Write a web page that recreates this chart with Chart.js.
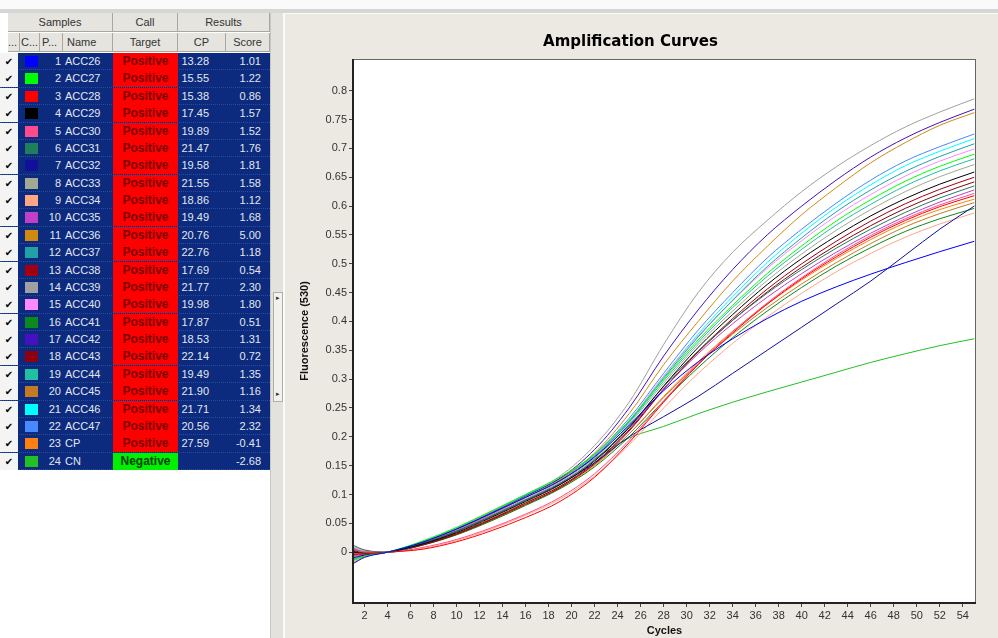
<!DOCTYPE html>
<html>
<head>
<meta charset="utf-8">
<script src="https://cdn.jsdelivr.net/npm/chart.js@4"></script>
<style>
  body { margin: 0; width: 998px; height: 638px; overflow: hidden; background: #fff; position: relative;
         font-family: "Liberation Sans", Arial, sans-serif; }
  #topbar { position: absolute; left: 0; top: 0; width: 998px; height: 9px; background: #fafafa; border-bottom: 4px solid #d6d6d6; }
  #grid { position: absolute; left: 0; top: 13px; width: 270px; height: 625px; background: #fff; }
  .hd { position: absolute; height: 19px; line-height: 19px; background: #e6e4df; color: #333; font-size: 11px;
        text-align: center; border-right: 1px solid #a9a7a2; border-bottom: 1px solid #a9a7a2; box-sizing: border-box; overflow: hidden; }
  .row { position: absolute; left: 0; width: 270px; height: 17.4px; background: #0c2b7e; border-bottom: 1px dotted #2d4b98; box-sizing: border-box; }
  .row span { position: absolute; top: 0; height: 17px; line-height: 17px; font-size: 11px; color: #e4e6ee; white-space: nowrap; }
  .chk { left: 0; width: 18px; background: #f4f4f4; color: #000 !important; font-size: 10px !important; text-align: center; font-family: "DejaVu Sans", sans-serif; }
  .sw { left: 25px; top: 3px !important; width: 13px; height: 11px !important; }
  .num { left: 40px; width: 21px; text-align: right; }
  .nm { left: 65px; }
  .call { left: 113px; width: 65px; text-align: center; font-weight: bold; font-size: 12px !important; }
  .pc { background: #ff0000; color: #7a0000 !important; }
  .nc { background: #00f000; color: #004000 !important; }
  .cp { left: 178px; width: 31px; text-align: right; }
  .sc { left: 226px; width: 35px; text-align: right; }
  #split { position: absolute; left: 270px; top: 13px; width: 13px; height: 625px; background: #e4e2dc; border-left: 1px solid #c8c6c0; box-sizing: border-box; }
  #handle { position: absolute; left: 2px; top: 279px; width: 8px; height: 108px; background: #f2f1ee; border: 1px solid #b0aea8;
            font-size: 7px; color: #333; text-align: center; line-height: 10px; }
  #panel { position: absolute; left: 283px; top: 13px; width: 715px; height: 625px; background: #ece9e2;
           border-left: 2px solid #fbfbfa; border-top: 1px solid #fbfbfa; box-sizing: border-box; }
  #amp { position: absolute; left: 285px; top: 14px; }
</style>
</head>
<body>
<div id="topbar"></div>
<div id="grid"></div>
<div id="split"><div id="handle"><div>&#9656;</div><div style="margin-top:86px">&#9656;</div></div></div>
<div id="panel"></div>
<canvas id="amp" width="713" height="624"></canvas>
<script>
// sample table
const sampleNames = ["ACC26", "ACC27", "ACC28", "ACC29", "ACC30", "ACC31", "ACC32", "ACC33", "ACC34", "ACC35", "ACC36", "ACC37",
  "ACC38", "ACC39", "ACC40", "ACC41", "ACC42", "ACC43", "ACC44", "ACC45", "ACC46", "ACC47", "CP", "CN"];
const sampleColors = ["#0000ff", "#00ff00", "#ff0000", "#000000", "#ff4a8c", "#1e7f5a", "#10109a", "#a3a892", "#ffa684", "#c040c8",
  "#d08a10", "#22a0a8", "#a00010", "#a0a0a0", "#ff88ff", "#0a8a1a", "#4410c0", "#8e0010", "#20c0a0", "#c47a22", "#00ffff",
  "#4a88ff", "#ff8010", "#22c022"];
const calls = ["Positive", "Positive", "Positive", "Positive", "Positive", "Positive", "Positive", "Positive", "Positive", "Positive",
  "Positive", "Positive", "Positive", "Positive", "Positive", "Positive", "Positive", "Positive", "Positive", "Positive",
  "Positive", "Positive", "Positive", "Negative"];
const cpValues = [13.28, 15.55, 15.38, 17.45, 19.89, 21.47, 19.58, 21.55, 18.86, 19.49, 20.76, 22.76,
  17.69, 21.77, 19.98, 17.87, 18.53, 22.14, 19.49, 21.90, 21.71, 20.56, 27.59, null];
const scores = [1.01, 1.22, 0.86, 1.57, 1.52, 1.76, 1.81, 1.58, 1.12, 1.68, 5.00, 1.18,
  0.54, 2.30, 1.80, 0.51, 1.31, 0.72, 1.35, 1.16, 1.34, 2.32, -0.41, -2.68];

// fluorescence (530) read at these cycles
const cycles = [1, 2, 4, 7, 10, 13, 16, 19, 22, 25, 28, 31, 34, 37, 40, 43, 46, 49, 52, 55];
const acc26 = [-0.02, -0.009, 0, 0.017, 0.04, 0.067, 0.095, 0.124, 0.165, 0.22, 0.28, 0.33, 0.37, 0.405, 0.435, 0.46, 0.482, 0.502, 0.521, 0.539];
const acc27 = [-0.015, -0.007, 0, 0.019, 0.043, 0.071, 0.1, 0.13, 0.17, 0.228, 0.3, 0.368, 0.428, 0.483, 0.531, 0.574, 0.611, 0.643, 0.669, 0.69];
const acc28 = [-0.003, -0.003, 0, 0.005, 0.018, 0.037, 0.06, 0.088, 0.13, 0.19, 0.26, 0.325, 0.38, 0.43, 0.474, 0.512, 0.546, 0.575, 0.599, 0.618];
const acc29 = [0.0, -0.002, 0, 0.014, 0.034, 0.06, 0.088, 0.117, 0.158, 0.216, 0.288, 0.355, 0.412, 0.464, 0.509, 0.548, 0.583, 0.613, 0.638, 0.659];
const acc30 = [0.007, 0.001, 0, 0.008, 0.022, 0.042, 0.066, 0.095, 0.136, 0.194, 0.262, 0.327, 0.382, 0.432, 0.476, 0.515, 0.549, 0.578, 0.602, 0.622];
const acc31 = [0.012, 0.004, 0, 0.015, 0.036, 0.062, 0.09, 0.119, 0.16, 0.218, 0.287, 0.349, 0.402, 0.449, 0.49, 0.527, 0.56, 0.589, 0.614, 0.635];
const acc32 = [-0.01, -0.005, 0, 0.015, 0.036, 0.062, 0.09, 0.118, 0.155, 0.2, 0.235, 0.27, 0.31, 0.35, 0.39, 0.43, 0.47, 0.515, 0.56, 0.6];
const acc33 = [0.01, 0.003, 0, 0.015, 0.036, 0.063, 0.092, 0.122, 0.163, 0.222, 0.293, 0.36, 0.418, 0.471, 0.517, 0.558, 0.594, 0.625, 0.651, 0.672];
const acc34 = [-0.002, -0.002, 0, 0.006, 0.02, 0.04, 0.064, 0.092, 0.132, 0.186, 0.25, 0.31, 0.362, 0.408, 0.449, 0.486, 0.518, 0.546, 0.569, 0.588];
const acc35 = [-0.006, -0.004, 0, 0.016, 0.037, 0.064, 0.092, 0.12, 0.16, 0.215, 0.283, 0.344, 0.396, 0.442, 0.483, 0.52, 0.553, 0.582, 0.607, 0.628];
const acc36 = [-0.008, -0.005, 0, 0.016, 0.038, 0.066, 0.095, 0.126, 0.172, 0.24, 0.325, 0.4, 0.47, 0.53, 0.585, 0.632, 0.675, 0.71, 0.74, 0.762];
const acc37 = [0.006, 0.0, 0, 0.017, 0.04, 0.067, 0.096, 0.125, 0.166, 0.226, 0.302, 0.373, 0.437, 0.495, 0.545, 0.59, 0.628, 0.66, 0.686, 0.708];
const acc38 = [0.003, -0.001, 0, 0.012, 0.031, 0.056, 0.083, 0.112, 0.153, 0.21, 0.282, 0.348, 0.405, 0.456, 0.5, 0.539, 0.574, 0.604, 0.629, 0.65];
const acc39 = [0.004, -0.002, 0, 0.018, 0.042, 0.07, 0.1, 0.132, 0.185, 0.26, 0.36, 0.45, 0.52, 0.575, 0.625, 0.668, 0.705, 0.737, 0.763, 0.786];
const acc40 = [0.008, 0.002, 0, 0.016, 0.038, 0.066, 0.095, 0.125, 0.167, 0.228, 0.305, 0.375, 0.436, 0.492, 0.54, 0.583, 0.62, 0.652, 0.678, 0.699];
const acc41 = [0.005, 0.0, 0, 0.012, 0.03, 0.054, 0.081, 0.11, 0.148, 0.2, 0.262, 0.32, 0.372, 0.418, 0.459, 0.496, 0.528, 0.556, 0.578, 0.596];
const acc42 = [0.002, -0.003, 0, 0.017, 0.04, 0.068, 0.097, 0.128, 0.178, 0.25, 0.34, 0.42, 0.49, 0.55, 0.6, 0.645, 0.685, 0.718, 0.745, 0.768];
const acc43 = [-0.004, -0.003, 0, 0.013, 0.032, 0.057, 0.085, 0.114, 0.155, 0.212, 0.283, 0.347, 0.402, 0.451, 0.494, 0.532, 0.566, 0.596, 0.621, 0.642];
const acc44 = [-0.005, -0.004, 0, 0.018, 0.042, 0.07, 0.099, 0.128, 0.168, 0.225, 0.297, 0.364, 0.424, 0.478, 0.525, 0.567, 0.603, 0.635, 0.661, 0.682];
const acc45 = [0.001, -0.002, 0, 0.014, 0.033, 0.058, 0.086, 0.114, 0.152, 0.205, 0.268, 0.327, 0.378, 0.424, 0.465, 0.502, 0.535, 0.564, 0.587, 0.606];
const acc46 = [-0.01, -0.005, 0, 0.018, 0.041, 0.069, 0.098, 0.127, 0.168, 0.228, 0.305, 0.378, 0.443, 0.502, 0.553, 0.598, 0.637, 0.67, 0.695, 0.717];
const acc47 = [-0.012, -0.006, 0, 0.017, 0.04, 0.068, 0.097, 0.128, 0.17, 0.232, 0.31, 0.385, 0.45, 0.51, 0.56, 0.605, 0.645, 0.678, 0.703, 0.725];
const posCtrl = [-0.018, -0.008, 0, 0.013, 0.031, 0.055, 0.082, 0.111, 0.15, 0.205, 0.27, 0.33, 0.383, 0.43, 0.472, 0.509, 0.542, 0.571, 0.594, 0.612];
const negCtrl = [-0.014, -0.006, 0, 0.017, 0.04, 0.067, 0.095, 0.124, 0.162, 0.198, 0.218, 0.24, 0.26, 0.278, 0.295, 0.312, 0.329, 0.344, 0.358, 0.37];
const curves = [acc26, acc27, acc28, acc29, acc30, acc31, acc32, acc33, acc34, acc35, acc36, acc37,
  acc38, acc39, acc40, acc41, acc42, acc43, acc44, acc45, acc46, acc47, posCtrl, negCtrl];

const xTicks = [2, 4, 6, 8, 10, 12, 14, 16, 18, 20, 22, 24, 26, 28, 30, 32, 34, 36, 38, 40, 42, 44, 46, 48, 50, 52, 54];
const yTicks = [0, 0.05, 0.1, 0.15, 0.2, 0.25, 0.3, 0.35, 0.4, 0.45, 0.5, 0.55, 0.6, 0.65, 0.7, 0.75, 0.8];

// ---- table ----
const grid = document.getElementById("grid");
function hd(text, left, top, width, extra) {
  const d = document.createElement("div");
  d.className = "hd";
  d.style.left = left + "px";
  d.style.top = top + "px";
  d.style.width = width + "px";
  d.textContent = text;
  if (extra) d.style.cssText += extra;
  grid.appendChild(d);
}
hd("", 0, 0, 8, "background:#fff;border:none");
hd("Samples", 8, 0, 105);
hd("Call", 113, 0, 65);
hd("Results", 178, 0, 92);
hd("", 0, 20, 8, "background:#fff;border:none");
hd("...", 8, 20, 12, "text-align:left");
hd("C...", 20, 20, 20);
hd("P...", 40, 20, 23, "text-align:left;padding-left:2px");
hd("Name", 63, 20, 50, "text-align:left;padding-left:4px");
hd("Target", 113, 20, 65);
hd("CP", 178, 20, 48);
hd("Score", 226, 20, 44);

sampleNames.forEach((name, i) => {
  const row = document.createElement("div");
  row.className = "row";
  row.style.top = (40 + i * 17.38) + "px";
  const cp = cpValues[i] === null ? "" : cpValues[i].toFixed(2);
  row.innerHTML =
    '<span class="chk">\u2714</span>' +
    '<span class="sw" style="background:' + sampleColors[i] + '"></span>' +
    '<span class="num">' + (i + 1) + '</span>' +
    '<span class="nm">' + name + '</span>' +
    '<span class="call ' + (calls[i] === "Positive" ? "pc" : "nc") + '">' + calls[i] + '</span>' +
    '<span class="cp">' + cp + '</span>' +
    '<span class="sc">' + scores[i].toFixed(2) + '</span>';
  grid.appendChild(row);
});

// ---- chart ----
const plotFrame = {
  id: "plotFrame",
  beforeDraw(chart) {
    const a = chart.chartArea, ctx = chart.ctx;
    ctx.save();
    ctx.fillStyle = "#fff";
    ctx.fillRect(a.left, a.top, a.right - a.left, a.bottom - a.top);
    ctx.restore();
  },
  afterDraw(chart) {
    const a = chart.chartArea, ctx = chart.ctx;
    ctx.save();
    ctx.strokeStyle = "#666";
    ctx.lineWidth = 1;
    ctx.strokeRect(a.left + 0.5, a.top + 0.5, a.right - a.left - 1, a.bottom - a.top - 1);
    ctx.strokeStyle = "#222";
    ctx.lineWidth = 2;
    ctx.beginPath();
    ctx.moveTo(a.left, a.top);
    ctx.lineTo(a.left, a.bottom);
    ctx.lineTo(a.right, a.bottom);
    ctx.stroke();
    ctx.restore();
  }
};

const tickFont = { family: "Liberation Sans", size: 11 };
const titleFont = { family: "Liberation Sans", size: 11, weight: "bold" };

new Chart(document.getElementById("amp"), {
  type: "line",
  data: {
    datasets: curves.map((vals, i) => ({
      label: sampleNames[i],
      data: vals.map((y, j) => ({ x: cycles[j], y: y })),
      borderColor: sampleColors[i],
      borderWidth: 1,
      pointRadius: 0,
      cubicInterpolationMode: "monotone",
      fill: false
    }))
  },
  options: {
    responsive: false,
    animation: false,
    layout: { padding: { left: 0, right: 22, top: 0, bottom: 0 } },
    plugins: {
      legend: { display: false },
      tooltip: { enabled: false },
      title: {
        display: true,
        text: "Amplification Curves",
        color: "#000",
        font: { family: "DejaVu Sans", size: 15, weight: "bold" },
        padding: { top: 19, bottom: 8 }
      }
    },
    scales: {
      x: {
        type: "linear",
        min: 1,
        max: 55.15,
        afterBuildTicks: (s) => { s.ticks = xTicks.map((v) => ({ value: v })); },
        afterFit: (s) => { s.height = 35; },
        ticks: { color: "#333", font: tickFont, padding: 2, maxRotation: 0, autoSkip: false },
        grid: { drawOnChartArea: false, drawTicks: true, tickLength: 4, color: "#444" },
        border: { display: false },
        title: { display: true, text: "Cycles", color: "#111", font: titleFont, padding: { top: 0, bottom: 0 } }
      },
      y: {
        type: "linear",
        min: -0.0881,
        max: 0.855,
        afterBuildTicks: (s) => { s.ticks = yTicks.map((v) => ({ value: v })); },
        afterFit: (s) => { s.width = 68; },
        ticks: { color: "#333", font: tickFont, padding: 2, callback: (v) => String(+v.toFixed(2)) },
        grid: { drawOnChartArea: false, drawTicks: true, tickLength: 4, color: "#444" },
        border: { display: false },
        title: { display: true, text: "Fluorescence (530)", color: "#111", font: titleFont, padding: { top: 13, bottom: 0 } }
      }
    }
  },
  plugins: [plotFrame]
});
</script>
</body>
</html>
